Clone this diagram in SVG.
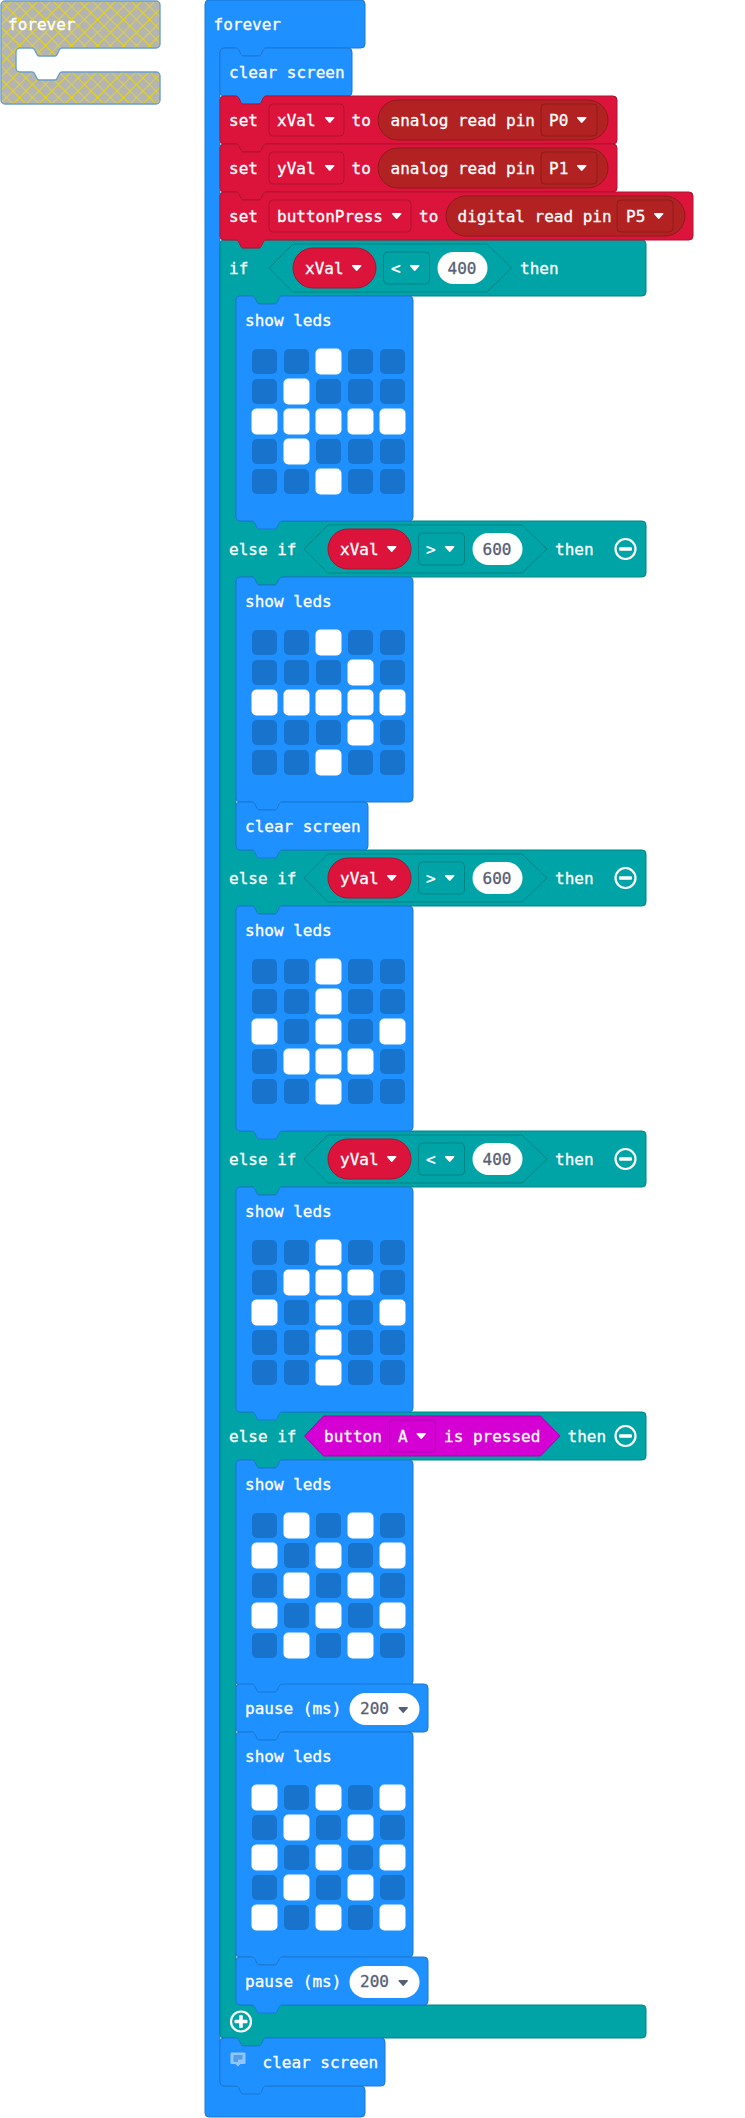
<svg xmlns="http://www.w3.org/2000/svg" width="745" height="2118" viewBox="0 0 745 2118">
<style>
text{font-family:"DejaVu Sans Mono","Liberation Mono",monospace;font-size:16px;fill:#fff;stroke:#fff;stroke-width:.3}
text.num{fill:#575e75;stroke:#575e75}
.blue{fill:#1e90ff;stroke:#1b78d0;stroke-width:1}
.red{fill:#dc143c;stroke:#b0102f;stroke-width:1}
.teal{fill:#00a4a6;stroke:#008385;stroke-width:1}
.dred{fill:#b22222;stroke:#8e1b1b;stroke-width:1}
.ddr{fill:#dc143c;stroke:#b0102f;stroke-width:1}
.ddd{fill:#b22222;stroke:#8e1b1b;stroke-width:1}
.ddt{fill:#00a4a6;stroke:#008385;stroke-width:1}
.ddp{fill:#d400d4;stroke:#aa00aa;stroke-width:1}
.pill{fill:#dc143c;stroke:#b0102f;stroke-width:1}
.num-pill{fill:#fff}
.hex{fill:#00a4a6;stroke:#008385;stroke-width:1}
.hexp{fill:#d400d4;stroke:#aa00aa;stroke-width:1}
.ic{fill:none;stroke:#fff;stroke-width:2.2}
</style>
<defs>
<pattern id="hatch" width="13" height="13" patternUnits="userSpaceOnUse">
<rect width="13" height="13" fill="#b4b4b4"/>
<path d="M-1 -1L14 14M-1 14L14 -1" stroke="#e2d41e" stroke-width="1.1"/>
</pattern>
<path id="tri" d="M.7 .7h8l-4 4.6z" fill="#fff" stroke="#fff" stroke-width="1.4" stroke-linejoin="round"/>
<path id="trig" d="M.7 .7h8l-4 4.6z" fill="#575e75" stroke="#575e75" stroke-width="1.4" stroke-linejoin="round"/>
<rect id="off" width="25" height="25" rx="5" fill="#1873cc"/>
<rect id="on" width="26" height="26" rx="5" fill="#fff"/>
<g id="grid">
<use href="#off" x="252" y="53"/><use href="#off" x="284" y="53"/><use href="#off" x="316" y="53"/><use href="#off" x="348" y="53"/><use href="#off" x="380" y="53"/>
<use href="#off" x="252" y="83"/><use href="#off" x="284" y="83"/><use href="#off" x="316" y="83"/><use href="#off" x="348" y="83"/><use href="#off" x="380" y="83"/>
<use href="#off" x="252" y="113"/><use href="#off" x="284" y="113"/><use href="#off" x="316" y="113"/><use href="#off" x="348" y="113"/><use href="#off" x="380" y="113"/>
<use href="#off" x="252" y="143"/><use href="#off" x="284" y="143"/><use href="#off" x="316" y="143"/><use href="#off" x="348" y="143"/><use href="#off" x="380" y="143"/>
<use href="#off" x="252" y="173"/><use href="#off" x="284" y="173"/><use href="#off" x="316" y="173"/><use href="#off" x="348" y="173"/><use href="#off" x="380" y="173"/>
</g>
<path id="showshape" class="blue" d="M236 4a4 4 0 0 1 4-4H252q1.500 0 2.500 1.500l2.500 5q.7 1.500 2 1.500h16q1.300 0 2-1.500l2.500-5q1-1.500 2.500-1.500H409a4 4 0 0 1 4 4V221a4 4 0 0 1-4 4H282q-1.500 0-2.500 1.500l-2.500 5q-.7 1.500-2 1.500h-16q-1.300 0-2-1.500l-2.500-5q-1-1.500-2.500-1.500H240a4 4 0 0 1-4-4z"/>
</defs>

<g id="ghost-forever">
<path fill="url(#hatch)" stroke="#6a9fd0" stroke-width="1.4" d="M1 5a4 4 0 0 1 4-4H156a4 4 0 0 1 4 4V44a4 4 0 0 1-4 4H62q-1.500 0-2.500 1.500l-2.500 5q-.7 1.500-2 1.500h-16q-1.300 0-2-1.500l-2.500-5q-1-1.500-2.500-1.500H20a4 4 0 0 0-4 4V68a4 4 0 0 0 4 4H32q1.500 0 2.500 1.500l2.500 5q.7 1.500 2 1.500h16q1.300 0 2-1.500l2.500-5q1-1.500 2.500-1.500H156a4 4 0 0 1 4 4V100a4 4 0 0 1-4 4H5a4 4 0 0 1-4-4z"/>
<text x="8" y="30">forever</text>
</g>

<g id="forever">
<path class="blue" d="M205 4a4 4 0 0 1 4-4H361a4 4 0 0 1 4 4V44a4 4 0 0 1-4 4H266q-1.500 0-2.500 1.500l-2.500 5q-.7 1.500-2 1.500h-16q-1.300 0-2-1.500l-2.500-5q-1-1.500-2.500-1.500H224a4 4 0 0 0-4 4V2082a4 4 0 0 0 4 4H361a4 4 0 0 1 4 4V2113a4 4 0 0 1-4 4H209a4 4 0 0 1-4-4z"/>
<text x="213.500" y="30">forever</text>
</g>

<g id="if-block">
<path class="teal" d="M220 244a4 4 0 0 1 4-4H236q1.500 0 2.500 1.500l2.500 5q.7 1.500 2 1.500h16q1.300 0 2-1.500l2.500-5q1-1.500 2.500-1.500H642a4 4 0 0 1 4 4V292a4 4 0 0 1-4 4H282q-1.500 0-2.500 1.500l-2.500 5q-.7 1.500-2 1.500h-16q-1.300 0-2-1.500l-2.500-5q-1-1.500-2.500-1.500H240a4 4 0 0 0-4 4V517a4 4 0 0 0 4 4H642a4 4 0 0 1 4 4V573a4 4 0 0 1-4 4H282q-1.500 0-2.500 1.500l-2.500 5q-.7 1.500-2 1.500h-16q-1.300 0-2-1.500l-2.500-5q-1-1.500-2.500-1.500H240a4 4 0 0 0-4 4V846a4 4 0 0 0 4 4H642a4 4 0 0 1 4 4V902a4 4 0 0 1-4 4H282q-1.500 0-2.500 1.500l-2.500 5q-.7 1.500-2 1.500h-16q-1.300 0-2-1.500l-2.500-5q-1-1.500-2.500-1.500H240a4 4 0 0 0-4 4V1127a4 4 0 0 0 4 4H642a4 4 0 0 1 4 4V1183a4 4 0 0 1-4 4H282q-1.500 0-2.500 1.500l-2.500 5q-.7 1.500-2 1.500h-16q-1.300 0-2-1.500l-2.500-5q-1-1.500-2.500-1.500H240a4 4 0 0 0-4 4V1408a4 4 0 0 0 4 4H642a4 4 0 0 1 4 4V1456a4 4 0 0 1-4 4H282q-1.500 0-2.500 1.500l-2.500 5q-.7 1.500-2 1.500h-16q-1.300 0-2-1.500l-2.500-5q-1-1.500-2.500-1.500H240a4 4 0 0 0-4 4V2001a4 4 0 0 0 4 4H642a4 4 0 0 1 4 4V2034a4 4 0 0 1-4 4H266q-1.500 0-2.500 1.500l-2.500 5q-.7 1.500-2 1.500h-16q-1.300 0-2-1.500l-2.500-5q-1-1.500-2.500-1.500H224a4 4 0 0 1-4-4z"/>
</g>

<g id="clear-screen-1">
<path class="blue" d="M220 52a4 4 0 0 1 4-4H236q1.500 0 2.500 1.500l2.500 5q.7 1.500 2 1.500h16q1.300 0 2-1.500l2.500-5q1-1.500 2.500-1.500H348a4 4 0 0 1 4 4V92a4 4 0 0 1-4 4H266q-1.500 0-2.500 1.500l-2.500 5q-.7 1.500-2 1.500h-16q-1.300 0-2-1.500l-2.500-5q-1-1.500-2.500-1.500H224a4 4 0 0 1-4-4z"/>
<text x="229" y="78">clear screen</text>
</g>

<g id="set-xval">
<path class="red" d="M220 100a4 4 0 0 1 4-4H236q1.500 0 2.500 1.500l2.500 5q.7 1.500 2 1.500h16q1.300 0 2-1.500l2.500-5q1-1.500 2.500-1.500H613a4 4 0 0 1 4 4V140a4 4 0 0 1-4 4H266q-1.500 0-2.500 1.500l-2.500 5q-.7 1.500-2 1.500h-16q-1.300 0-2-1.500l-2.500-5q-1-1.500-2.500-1.500H224a4 4 0 0 1-4-4z"/>
<text x="229" y="126">set</text>
<rect class="ddr" x="269" y="104" width="75" height="32" rx="4"/>
<text x="277" y="126">xVal</text>
<use href="#tri" x="325" y="117"/>
<text x="351.500" y="126">to</text>
<rect class="dred" x="378" y="100" width="230" height="40" rx="20"/>
<text x="390.500" y="126">analog read pin</text>
<rect class="ddd" x="541" y="104" width="56" height="32" rx="4"/>
<text x="549" y="126">P0</text>
<use href="#tri" x="577" y="117"/>
</g>

<g id="set-yval">
<path class="red" d="M220 148a4 4 0 0 1 4-4H236q1.500 0 2.500 1.500l2.500 5q.7 1.500 2 1.500h16q1.300 0 2-1.500l2.500-5q1-1.500 2.500-1.500H613a4 4 0 0 1 4 4V188a4 4 0 0 1-4 4H266q-1.500 0-2.500 1.500l-2.500 5q-.7 1.500-2 1.500h-16q-1.300 0-2-1.500l-2.500-5q-1-1.500-2.500-1.500H224a4 4 0 0 1-4-4z"/>
<text x="229" y="174">set</text>
<rect class="ddr" x="269" y="152" width="75" height="32" rx="4"/>
<text x="277" y="174">yVal</text>
<use href="#tri" x="325" y="165"/>
<text x="351.500" y="174">to</text>
<rect class="dred" x="378" y="148" width="230" height="40" rx="20"/>
<text x="390.500" y="174">analog read pin</text>
<rect class="ddd" x="541" y="152" width="56" height="32" rx="4"/>
<text x="549" y="174">P1</text>
<use href="#tri" x="577" y="165"/>
</g>

<g id="set-buttonpress">
<path class="red" d="M220 196a4 4 0 0 1 4-4H236q1.500 0 2.500 1.500l2.500 5q.7 1.500 2 1.500h16q1.300 0 2-1.500l2.500-5q1-1.500 2.500-1.500H689a4 4 0 0 1 4 4V236a4 4 0 0 1-4 4H266q-1.500 0-2.500 1.500l-2.500 5q-.7 1.500-2 1.500h-16q-1.300 0-2-1.500l-2.500-5q-1-1.500-2.500-1.500H224a4 4 0 0 1-4-4z"/>
<text x="229" y="222">set</text>
<rect class="ddr" x="269" y="200" width="142" height="32" rx="4"/>
<text x="277" y="222">buttonPress</text>
<use href="#tri" x="392" y="213"/>
<text x="419" y="222">to</text>
<rect class="dred" x="446" y="196" width="239" height="40" rx="20"/>
<text x="457.500" y="222">digital read pin</text>
<rect class="ddd" x="617" y="200" width="56" height="32" rx="4"/>
<text x="626" y="222">P5</text>
<use href="#tri" x="654" y="213"/>
</g>

<g id="if-row">
<text x="229" y="274">if</text>
<path class="hex" d="M269 268L293 244H487L511.500 268L487 292H293z"/>
<rect class="pill" x="293" y="248" width="83" height="40" rx="20"/>
<text x="305" y="274">xVal</text>
<use href="#tri" x="352" y="265"/>
<rect class="ddt" x="383.500" y="252" width="46" height="32" rx="4"/>
<text x="391" y="274">&lt;</text>
<use href="#tri" x="410" y="265"/>
<rect class="num-pill" x="437.500" y="252" width="50" height="32" rx="16"/>
<text class="num" x="447.500" y="274">400</text>
<text x="520" y="274">then</text>
</g>

<g id="elseif-xval">
<text x="229" y="555">else if</text>
<path class="hex" d="M304 549L328 525H522L547 549L522 573H328z"/>
<rect class="pill" x="328" y="529" width="83" height="40" rx="20"/>
<text x="340" y="555">xVal</text>
<use href="#tri" x="387" y="546"/>
<rect class="ddt" x="418.500" y="533" width="46" height="32" rx="4"/>
<text x="426" y="555">&gt;</text>
<use href="#tri" x="445" y="546"/>
<rect class="num-pill" x="472.500" y="533" width="50" height="32" rx="16"/>
<text class="num" x="482.500" y="555">600</text>
<text x="555" y="555">then</text>
<circle class="ic" cx="625.500" cy="549" r="10"/><rect x="619" y="547.200" width="13" height="3.600" rx="1" fill="#fff"/>
</g>

<g id="elseif-yval-gt">
<text x="229" y="884">else if</text>
<path class="hex" d="M304 878L328 854H522L547 878L522 902H328z"/>
<rect class="pill" x="328" y="858" width="83" height="40" rx="20"/>
<text x="340" y="884">yVal</text>
<use href="#tri" x="387" y="875"/>
<rect class="ddt" x="418.500" y="862" width="46" height="32" rx="4"/>
<text x="426" y="884">&gt;</text>
<use href="#tri" x="445" y="875"/>
<rect class="num-pill" x="472.500" y="862" width="50" height="32" rx="16"/>
<text class="num" x="482.500" y="884">600</text>
<text x="555" y="884">then</text>
<circle class="ic" cx="625.500" cy="878" r="10"/><rect x="619" y="876.200" width="13" height="3.600" rx="1" fill="#fff"/>
</g>

<g id="elseif-yval-lt">
<text x="229" y="1165">else if</text>
<path class="hex" d="M304 1159L328 1135H522L547 1159L522 1183H328z"/>
<rect class="pill" x="328" y="1139" width="83" height="40" rx="20"/>
<text x="340" y="1165">yVal</text>
<use href="#tri" x="387" y="1156"/>
<rect class="ddt" x="418.500" y="1143" width="46" height="32" rx="4"/>
<text x="426" y="1165">&lt;</text>
<use href="#tri" x="445" y="1156"/>
<rect class="num-pill" x="472.500" y="1143" width="50" height="32" rx="16"/>
<text class="num" x="482.500" y="1165">400</text>
<text x="555" y="1165">then</text>
<circle class="ic" cx="625.500" cy="1159" r="10"/><rect x="619" y="1157.200" width="13" height="3.600" rx="1" fill="#fff"/>
</g>

<g id="elseif-button">
<text x="229" y="1442">else if</text>
<path class="hexp" d="M304.500 1436L323.500 1416H540.500L560 1436L540.500 1456H323.500z"/>
<text x="324" y="1442">button</text>
<rect class="ddp" x="389.500" y="1420" width="46" height="32" rx="4"/>
<text x="398" y="1442">A</text>
<use href="#tri" x="416.500" y="1433"/>
<text x="444" y="1442">is pressed</text>
<text x="567.500" y="1442">then</text>
<circle class="ic" cx="625.500" cy="1436" r="10"/><rect x="619" y="1434.200" width="13" height="3.600" rx="1" fill="#fff"/>
</g>

<g id="if-end">
<circle class="ic" cx="241" cy="2021.500" r="10"/><rect x="234.500" y="2019.700" width="13" height="3.600" rx="1" fill="#fff"/><rect x="239.200" y="2015" width="3.600" height="13" rx="1" fill="#fff"/>
</g>

<g id="show-leds-1" transform="translate(0,296)">
<use href="#showshape"/><text x="245" y="30">show leds</text><use href="#grid"/>
<use href="#on" x="315.500" y="52.500"/>
<use href="#on" x="283.500" y="82.500"/>
<use href="#on" x="251.500" y="112.500"/><use href="#on" x="283.500" y="112.500"/><use href="#on" x="315.500" y="112.500"/><use href="#on" x="347.500" y="112.500"/><use href="#on" x="379.500" y="112.500"/>
<use href="#on" x="283.500" y="142.500"/>
<use href="#on" x="315.500" y="172.500"/>
</g>

<g id="show-leds-2" transform="translate(0,577)">
<use href="#showshape"/><text x="245" y="30">show leds</text><use href="#grid"/>
<use href="#on" x="315.500" y="52.500"/>
<use href="#on" x="347.500" y="82.500"/>
<use href="#on" x="251.500" y="112.500"/><use href="#on" x="283.500" y="112.500"/><use href="#on" x="315.500" y="112.500"/><use href="#on" x="347.500" y="112.500"/><use href="#on" x="379.500" y="112.500"/>
<use href="#on" x="347.500" y="142.500"/>
<use href="#on" x="315.500" y="172.500"/>
</g>

<g id="clear-screen-2">
<path class="blue" d="M236 806a4 4 0 0 1 4-4H252q1.500 0 2.500 1.500l2.500 5q.7 1.500 2 1.500h16q1.300 0 2-1.500l2.500-5q1-1.500 2.500-1.500H364a4 4 0 0 1 4 4V846a4 4 0 0 1-4 4H282q-1.500 0-2.500 1.500l-2.500 5q-.7 1.500-2 1.500h-16q-1.300 0-2-1.500l-2.500-5q-1-1.500-2.500-1.500H240a4 4 0 0 1-4-4z"/>
<text x="245" y="832">clear screen</text>
</g>

<g id="show-leds-3" transform="translate(0,906)">
<use href="#showshape"/><text x="245" y="30">show leds</text><use href="#grid"/>
<use href="#on" x="315.500" y="52.500"/>
<use href="#on" x="315.500" y="82.500"/>
<use href="#on" x="251.500" y="112.500"/><use href="#on" x="315.500" y="112.500"/><use href="#on" x="379.500" y="112.500"/>
<use href="#on" x="283.500" y="142.500"/><use href="#on" x="315.500" y="142.500"/><use href="#on" x="347.500" y="142.500"/>
<use href="#on" x="315.500" y="172.500"/>
</g>

<g id="show-leds-4" transform="translate(0,1187)">
<use href="#showshape"/><text x="245" y="30">show leds</text><use href="#grid"/>
<use href="#on" x="315.500" y="52.500"/>
<use href="#on" x="283.500" y="82.500"/><use href="#on" x="315.500" y="82.500"/><use href="#on" x="347.500" y="82.500"/>
<use href="#on" x="251.500" y="112.500"/><use href="#on" x="315.500" y="112.500"/><use href="#on" x="379.500" y="112.500"/>
<use href="#on" x="315.500" y="142.500"/>
<use href="#on" x="315.500" y="172.500"/>
</g>

<g id="show-leds-5" transform="translate(0,1460)">
<use href="#showshape"/><text x="245" y="30">show leds</text><use href="#grid"/>
<use href="#on" x="283.500" y="52.500"/><use href="#on" x="347.500" y="52.500"/>
<use href="#on" x="251.500" y="82.500"/><use href="#on" x="315.500" y="82.500"/><use href="#on" x="379.500" y="82.500"/>
<use href="#on" x="283.500" y="112.500"/><use href="#on" x="347.500" y="112.500"/>
<use href="#on" x="251.500" y="142.500"/><use href="#on" x="315.500" y="142.500"/><use href="#on" x="379.500" y="142.500"/>
<use href="#on" x="283.500" y="172.500"/><use href="#on" x="347.500" y="172.500"/>
</g>

<g id="pause-1" transform="translate(0,1684)">
<path class="blue" d="M236 4a4 4 0 0 1 4-4H252q1.500 0 2.500 1.500l2.500 5q.7 1.500 2 1.500h16q1.300 0 2-1.500l2.500-5q1-1.500 2.500-1.500H424a4 4 0 0 1 4 4V44a4 4 0 0 1-4 4H282q-1.500 0-2.500 1.500l-2.500 5q-.7 1.500-2 1.500h-16q-1.300 0-2-1.500l-2.500-5q-1-1.500-2.500-1.500H240a4 4 0 0 1-4-4z"/>
<text x="245" y="30">pause (ms)</text>
<rect class="num-pill" x="349.500" y="9" width="70" height="32" rx="16"/>
<text class="num" x="360" y="30">200</text>
<use href="#trig" x="398.500" y="23"/>
</g>

<g id="show-leds-6" transform="translate(0,1732)">
<use href="#showshape"/><text x="245" y="30">show leds</text><use href="#grid"/>
<use href="#on" x="251.500" y="52.500"/><use href="#on" x="315.500" y="52.500"/><use href="#on" x="379.500" y="52.500"/>
<use href="#on" x="283.500" y="82.500"/><use href="#on" x="347.500" y="82.500"/>
<use href="#on" x="251.500" y="112.500"/><use href="#on" x="315.500" y="112.500"/><use href="#on" x="379.500" y="112.500"/>
<use href="#on" x="283.500" y="142.500"/><use href="#on" x="347.500" y="142.500"/>
<use href="#on" x="251.500" y="172.500"/><use href="#on" x="315.500" y="172.500"/><use href="#on" x="379.500" y="172.500"/>
</g>

<g id="pause-2" transform="translate(0,1957)">
<path class="blue" d="M236 4a4 4 0 0 1 4-4H252q1.500 0 2.500 1.500l2.500 5q.7 1.500 2 1.500h16q1.300 0 2-1.500l2.500-5q1-1.500 2.500-1.500H424a4 4 0 0 1 4 4V44a4 4 0 0 1-4 4H282q-1.500 0-2.500 1.500l-2.500 5q-.7 1.500-2 1.500h-16q-1.300 0-2-1.500l-2.500-5q-1-1.500-2.500-1.500H240a4 4 0 0 1-4-4z"/>
<text x="245" y="30">pause (ms)</text>
<rect class="num-pill" x="349.500" y="9" width="70" height="32" rx="16"/>
<text class="num" x="360" y="30">200</text>
<use href="#trig" x="398.500" y="23"/>
</g>

<g id="clear-screen-3">
<path class="blue" d="M220 2042a4 4 0 0 1 4-4H236q1.500 0 2.500 1.500l2.500 5q.7 1.500 2 1.500h16q1.300 0 2-1.500l2.500-5q1-1.500 2.500-1.500H381a4 4 0 0 1 4 4V2082a4 4 0 0 1-4 4H266q-1.500 0-2.500 1.500l-2.500 5q-.7 1.500-2 1.500h-16q-1.300 0-2-1.500l-2.500-5q-1-1.500-2.500-1.500H224a4 4 0 0 1-4-4z"/>
<path fill="#fff" fill-opacity=".5" d="M231.500 2052.500h13a1 1 0 0 1 1 1v9.500a1 1 0 0 1-1 1h-4l-2.500 2.500-2.500-2.500h-4a1 1 0 0 1-1-1v-9.500a1 1 0 0 1 1-1z"/>
<path fill="#1873cc" fill-opacity=".5" d="M233.500 2055h9v4.500h-4.500v2.500h-4.500z"/>
<text x="262.500" y="2068">clear screen</text>
</g>
</svg>
